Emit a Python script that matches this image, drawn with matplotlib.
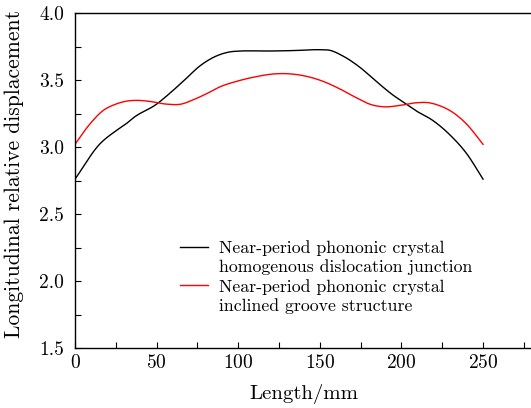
import numpy as np
import matplotlib
matplotlib.use("Agg")
import matplotlib.pyplot as plt
from matplotlib.lines import Line2D
from matplotlib.ticker import MultipleLocator

plt.rcParams['font.family'] = 'serif'
plt.rcParams['font.serif'] = ['cmr10', 'DejaVu Serif']
plt.rcParams['mathtext.fontset'] = 'cm'
plt.rcParams['axes.formatter.use_mathtext'] = True

# values
length_black = [0, 15, 25, 31, 36, 50, 58, 68, 76, 85, 95, 101, 117, 135, 150, 156,
                164, 174, 185, 195, 201, 209, 219, 230, 240, 250]
disp_black = [2.76, 3.02, 3.12, 3.17, 3.22, 3.32, 3.40, 3.51, 3.60, 3.67, 3.71, 3.716,
              3.716, 3.72, 3.726, 3.722, 3.68, 3.60, 3.485, 3.386, 3.336, 3.27, 3.20,
              3.087, 2.95, 2.76]

length_red = [0, 9, 17, 25, 32, 38, 46, 56, 65, 72, 81, 89, 99, 109, 124, 130, 142,
              152, 162, 172, 181, 189, 199, 209, 217, 223, 230, 240, 250]
disp_red = [3.02, 3.17, 3.27, 3.32, 3.343, 3.348, 3.34, 3.32, 3.32, 3.35, 3.40, 3.45,
            3.49, 3.52, 3.547, 3.547, 3.527, 3.49, 3.435, 3.37, 3.318, 3.30, 3.31,
            3.33, 3.33, 3.31, 3.27, 3.17, 3.02]

label_black = ["Near-period phononic crystal", "homogenous dislocation junction"]
label_red = ["Near-period phononic crystal", "inclined groove structure"]


def smooth(x, y, n=400):
    # cubic hermite through the read points
    x = np.asarray(x, float)
    y = np.asarray(y, float)
    xs = np.linspace(x[0], x[-1], n)
    m = np.gradient(y, x)
    idx = np.clip(np.searchsorted(x, xs) - 1, 0, len(x) - 2)
    h = x[idx + 1] - x[idx]
    t = (xs - x[idx]) / h
    h00 = 2 * t**3 - 3 * t**2 + 1
    h10 = t**3 - 2 * t**2 + t
    h01 = -2 * t**3 + 3 * t**2
    h11 = t**3 - t**2
    ys = h00 * y[idx] + h10 * h * m[idx] + h01 * y[idx + 1] + h11 * h * m[idx + 1]
    return xs, ys


fig = plt.figure(figsize=(5.31, 4.08), dpi=100)
ax = fig.add_axes([75 / 531, 60 / 408, 457 / 531, 335 / 408])

xb, yb = smooth(length_black, disp_black)
xr, yr = smooth(length_red, disp_red)
line_b, = ax.plot(xb, yb, color='black', lw=1.0)
line_r, = ax.plot(xr, yr, color='red', lw=1.0)

ax.set_xlim(0, 280)
ax.set_ylim(1.5, 4.0)
ax.set_xticks([0, 50, 100, 150, 200, 250])
ax.xaxis.set_minor_locator(MultipleLocator(25))
ax.set_yticks([1.5, 2.0, 2.5, 3.0, 3.5, 4.0])
ax.yaxis.set_minor_locator(MultipleLocator(0.25))
ax.yaxis.set_major_formatter(plt.FormatStrFormatter('%.1f'))
ax.tick_params(which='both', direction='in', labelsize=14, width=0.8, length=4)
ax.tick_params(axis='x', pad=4)
ax.tick_params(axis='y', pad=8)
ax.spines['right'].set_visible(False)
for s in ['left', 'bottom', 'top']:
    ax.spines[s].set_linewidth(1.0)

ax.set_xlabel('Length/mm', fontsize=15, labelpad=9)
ax.set_ylabel('Longitudinal relative displacement', fontsize=15.5)
ax.yaxis.set_label_coords(-0.112, 0.52)

# legend: handle sits on the first line of each two-line label
blank = Line2D([], [], color='none')
handles = [line_b, blank, line_r, blank]
labels = [label_black[0], label_black[1], label_red[0], label_red[1]]
ax.legend(handles, labels, loc='upper left', bbox_to_anchor=(180 / 531, 1 - 240 / 408),
          bbox_transform=fig.transFigure, frameon=False, fontsize=12.8,
          handlelength=1.6, handletextpad=0.6, labelspacing=0.2,
          borderpad=0, borderaxespad=0)

fig.savefig('out.png', dpi=100)
